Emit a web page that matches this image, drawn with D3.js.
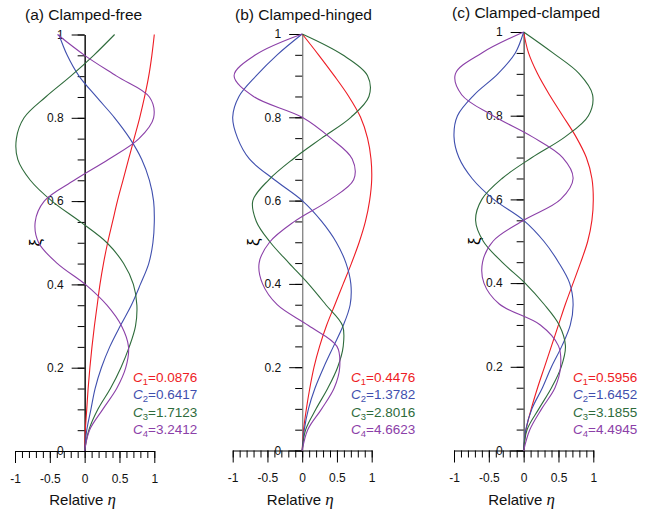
<!DOCTYPE html>
<html>
<head>
<meta charset="utf-8">
<script src="https://cdn.jsdelivr.net/npm/d3@7"></script>
<style>
  html, body { margin: 0; padding: 0; background: #fff; }
  svg { display: block; }
  text { font-family: "Liberation Sans", Arial, sans-serif; }
</style>
</head>
<body>
<svg id="chart" width="645" height="514"></svg>
<script>
// ---- data (relative η read at each ξ) ----
const xi = [0,0.05,0.1,0.15,0.2,0.25,0.3,0.35,0.4,0.45,0.5,0.55,0.6,0.65,0.7,0.75,0.8,0.85,0.9,0.95,1];

const freeMode1 = [0,0.01,0.03,0.05,0.075,0.105,0.14,0.18,0.22,0.27,0.33,0.40,0.47,0.55,0.63,0.71,0.79,0.86,0.92,0.965,1.0];
const freeMode2 = [0,0.03,0.09,0.15,0.24,0.36,0.51,0.67,0.80,0.92,0.98,1.0,0.99,0.93,0.82,0.65,0.43,0.17,-0.08,-0.25,-0.37];
const freeMode3 = [0,0.06,0.19,0.37,0.52,0.64,0.73,0.75,0.70,0.56,0.32,-0.06,-0.47,-0.78,-0.96,-0.98,-0.87,-0.56,-0.20,0.13,0.43];
const freeMode4 = [0,0.07,0.26,0.46,0.59,0.63,0.53,0.32,0.01,-0.39,-0.66,-0.71,-0.58,-0.15,0.34,0.78,0.99,0.93,0.46,0.0,-0.39];

const hingedMode1 = [0,0.02,0.06,0.11,0.17,0.25,0.35,0.47,0.59,0.71,0.82,0.91,0.97,1.0,0.99,0.94,0.84,0.67,0.46,0.235,0];
const hingedMode2 = [0,0.03,0.09,0.185,0.31,0.45,0.59,0.69,0.70,0.63,0.49,0.28,0,-0.40,-0.76,-0.93,-1.0,-0.91,-0.66,-0.36,0];
const hingedMode3 = [0,0.05,0.20,0.37,0.51,0.59,0.58,0.34,0.09,-0.19,-0.46,-0.66,-0.71,-0.48,-0.13,0.28,0.70,0.96,0.94,0.58,0];
const hingedMode4 = [0,0.08,0.28,0.46,0.54,0.50,0.09,-0.36,-0.57,-0.62,-0.47,-0.11,0.38,0.74,0.72,0.41,0,-0.70,-0.98,-0.67,0];

const clampedMode1 = [0,0.035,0.11,0.20,0.30,0.40,0.50,0.60,0.71,0.82,0.92,0.98,1.0,0.98,0.90,0.75,0.56,0.37,0.20,0.07,0];
const clampedMode2 = [0,0.03,0.12,0.27,0.40,0.55,0.67,0.71,0.66,0.50,0.29,0,-0.43,-0.74,-0.93,-1.0,-0.95,-0.71,-0.37,-0.12,0];
const clampedMode3 = [0,0.05,0.22,0.40,0.54,0.60,0.51,0.29,0.02,-0.31,-0.58,-0.69,-0.60,-0.31,0.12,0.60,0.93,0.99,0.80,0.42,0];
const clampedMode4 = [0,0.09,0.26,0.45,0.53,0.50,0.24,-0.35,-0.57,-0.59,-0.44,0,0.53,0.71,0.56,0.12,-0.44,-0.89,-0.98,-0.60,0];

const freeC    = ["0.0876","0.6417","1.7123","3.2412"];
const hingedC  = ["0.4476","1.3782","2.8016","4.6623"];
const clampedC = ["0.5956","1.6452","3.1855","4.4945"];

const titles = ["(a) Clamped-free","(b) Clamped-hinged","(c) Clamped-clamped"];
const xMajorTicks = [-1,-0.5,0,0.5,1];
const xMinorTicks = [-1,-0.9,-0.8,-0.7,-0.6,-0.5,-0.4,-0.3,-0.2,-0.1,0,0.1,0.2,0.3,0.4,0.5,0.6,0.7,0.8,0.9,1];
const yMajorTicks = [0,0.2,0.4,0.6,0.8,1];
const yMinorTicks = [0,0.05,0.1,0.15,0.2,0.25,0.3,0.35,0.4,0.45,0.5,0.55,0.6,0.65,0.7,0.75,0.8,0.85,0.9,0.95,1];

const colors = ["#ee1c24","#3f4fae","#2e6b3b","#8b40a8"];

// ---- layout ----
const panels = [
  {title: titles[0], modes: [freeMode1,freeMode2,freeMode3,freeMode4], C: freeC,
   xl: 15, xr: 154.3, y0: 451, y1: 34.5, axisColor: "#000", titleX: 25, titleY: 20, legX: 133, xiX: 35},
  {title: titles[1], modes: [hingedMode1,hingedMode2,hingedMode3,hingedMode4], C: hingedC,
   xl: 232.7, xr: 371.7, y0: 450.5, y1: 34, axisColor: "#8a8a8a", titleX: 235, titleY: 20, legX: 351, xiX: 253},
  {title: titles[2], modes: [clampedMode1,clampedMode2,clampedMode3,clampedMode4], C: clampedC,
   xl: 454, xr: 593.3, y0: 450.5, y1: 32, axisColor: "#555", titleX: 452, titleY: 18, legX: 573, xiX: 474}
];

const svg = d3.select("#chart");

panels.forEach(p => {
  const x = d3.scaleLinear().domain([-1, 1]).range([p.xl, p.xr]);
  const y = d3.scaleLinear().domain([0, 1]).range([p.y0, p.y1]);
  const g = svg.append("g");

  // title
  g.append("text").attr("x", p.titleX).attr("y", p.titleY)
    .attr("font-size", 15.5).attr("fill", "#111").text(p.title);

  // x axis (minor + major)
  const xMinor = d3.axisBottom(x).tickValues(xMinorTicks).tickSize(7).tickSizeOuter(0).tickFormat("");
  const gxm = g.append("g").attr("transform", `translate(0,${y(0)})`).call(xMinor);
  gxm.selectAll("line").attr("stroke", "#000");
  gxm.select(".domain").attr("stroke", "#000");
  const xMajor = d3.axisBottom(x).tickValues(xMajorTicks).tickSize(12).tickSizeOuter(0)
    .tickPadding(11).tickFormat(d => String(d));
  const gx = g.append("g").attr("transform", `translate(0,${y(0)})`).call(xMajor);
  gx.select(".domain").remove();
  gx.selectAll("line").attr("stroke", "#000");
  gx.selectAll("text").attr("font-size", 12).attr("fill", "#111")
    .attr("font-family", '"Liberation Sans", Arial, sans-serif');

  // x label
  const xl = g.append("text").attr("x", x(0) - 2).attr("y", 505)
    .attr("text-anchor", "middle").attr("fill", "#111");
  xl.append("tspan").attr("font-size", 15).text("Relative ");
  xl.append("tspan").attr("font-size", 17).attr("font-style", "italic")
    .attr("font-family", '"Liberation Serif", "DejaVu Serif", serif').text("η");

  // y axis (minor + major)
  const yMinor = d3.axisLeft(y).tickValues(yMinorTicks).tickSize(7).tickSizeOuter(0).tickFormat("");
  const gym = g.append("g").attr("transform", `translate(${x(0)},0)`).call(yMinor);
  gym.selectAll("line").attr("stroke", "#000");
  gym.select(".domain").attr("stroke", p.axisColor).attr("stroke-width", 1.4);
  const yMajor = d3.axisLeft(y).tickValues(yMajorTicks).tickSize(13).tickSizeOuter(0)
    .tickPadding(8).tickFormat(d => String(d));
  const gy = g.append("g").attr("transform", `translate(${x(0)},0)`).call(yMajor);
  gy.select(".domain").remove();
  gy.selectAll("line").attr("stroke", "#000");
  gy.selectAll("text").attr("font-size", 12).attr("fill", "#111")
    .attr("font-family", '"Liberation Sans", Arial, sans-serif');

  // ξ label
  g.append("text").attr("transform", `translate(${p.xiX},${y(0.5)}) rotate(-90)`)
    .attr("text-anchor", "middle").attr("dy", "0.35em")
    .attr("font-size", 17).attr("font-family", '"Liberation Serif", "DejaVu Serif", serif')
    .attr("fill", "#000").text("ξ");

  // curves
  const line = d3.line()
    .x(d => x(d[1]))
    .y(d => y(d[0]))
    .curve(d3.curveCatmullRom.alpha(0.5));
  p.modes.forEach((m, i) => {
    g.append("path").datum(xi.map((v, k) => [v, m[k]]))
      .attr("d", line).attr("fill", "none")
      .attr("stroke", colors[i]).attr("stroke-width", 1.1);
  });

  // legend
  p.C.forEach((c, i) => {
    const t = g.append("text").attr("x", p.legX).attr("y", 382 + i * 17.3)
      .attr("font-size", 13.5).attr("fill", colors[i]);
    t.append("tspan").attr("font-style", "italic").text("C");
    t.append("tspan").attr("font-size", 9.5).attr("dy", 3).text(String(i + 1));
    t.append("tspan").attr("dy", -3).text("=" + c);
  });
});
</script>
</body>
</html>
